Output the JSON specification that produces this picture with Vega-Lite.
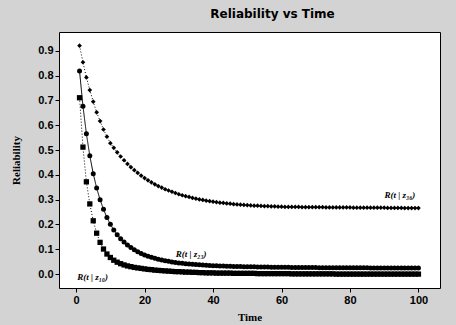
{
  "$schema": "https://vega.github.io/schema/vega-lite/v6.json",
  "width": 381,
  "height": 256,
  "autosize": "none",
  "padding": {"left": 59, "top": 32, "right": 16, "bottom": 37},
  "background": "#d3d3d3",
  "title": {"text": "Reliability vs Time", "fontSize": 12, "font": "DejaVu Sans", "fontWeight": "bold", "color": "black", "dx": 23, "offset": 11},
  "config": {
    "view": {"stroke": "black", "strokeWidth": 1, "fill": "white"},
    "axis": {"domain": false, "grid": false, "ticks": true, "tickSize": 4, "tickColor": "black", "labelOverlap": false, "labelFont": "Liberation Sans", "labelFontWeight": "bold", "labelFontSize": 11, "labelColor": "black", "labelPadding": 2, "titleFont": "Liberation Serif", "titleFontWeight": "bold", "titleFontSize": 11, "titleColor": "black"}
  },
  "datasets": {
    "curves": [
      {"t":1,"a":0.921,"b":0.819,"c":0.711},{"t":2,"a":0.854,"b":0.677,"c":0.512},{"t":3,"a":0.793,"b":0.566,"c":0.372},{"t":4,"a":0.742,"b":0.477,"c":0.283},{"t":5,"a":0.695,"b":0.405,"c":0.215},
      {"t":6,"a":0.652,"b":0.347,"c":0.165},{"t":7,"a":0.617,"b":0.300,"c":0.128},{"t":8,"a":0.583,"b":0.261,"c":0.101},{"t":9,"a":0.554,"b":0.228,"c":0.081},{"t":10,"a":0.528,"b":0.201,"c":0.067},
      {"t":11,"a":0.509,"b":0.178,"c":0.056},{"t":12,"a":0.491,"b":0.159,"c":0.048},{"t":13,"a":0.474,"b":0.143,"c":0.042},{"t":14,"a":0.459,"b":0.129,"c":0.037},{"t":15,"a":0.444,"b":0.117,"c":0.033},
      {"t":16,"a":0.431,"b":0.107,"c":0.030},{"t":17,"a":0.419,"b":0.098,"c":0.027},{"t":18,"a":0.408,"b":0.090,"c":0.025},{"t":19,"a":0.397,"b":0.083,"c":0.023},{"t":20,"a":0.387,"b":0.077,"c":0.021},
      {"t":21,"a":0.378,"b":0.072,"c":0.019},{"t":22,"a":0.370,"b":0.068,"c":0.018},{"t":23,"a":0.362,"b":0.064,"c":0.016},{"t":24,"a":0.355,"b":0.060,"c":0.015},{"t":25,"a":0.349,"b":0.057,"c":0.014},
      {"t":26,"a":0.342,"b":0.054,"c":0.013},{"t":27,"a":0.337,"b":0.052,"c":0.012},{"t":28,"a":0.332,"b":0.049,"c":0.011},{"t":29,"a":0.327,"b":0.047,"c":0.010},{"t":30,"a":0.322,"b":0.045,"c":0.010},
      {"t":31,"a":0.318,"b":0.044,"c":0.009},{"t":32,"a":0.314,"b":0.042,"c":0.008},{"t":33,"a":0.311,"b":0.041,"c":0.008},{"t":34,"a":0.307,"b":0.040,"c":0.007},{"t":35,"a":0.304,"b":0.039,"c":0.007},
      {"t":36,"a":0.301,"b":0.038,"c":0.006},{"t":37,"a":0.299,"b":0.037,"c":0.006},{"t":38,"a":0.296,"b":0.036,"c":0.005},{"t":39,"a":0.294,"b":0.035,"c":0.005},{"t":40,"a":0.292,"b":0.034,"c":0.005},
      {"t":41,"a":0.290,"b":0.034,"c":0.004},{"t":42,"a":0.288,"b":0.033,"c":0.004},{"t":43,"a":0.287,"b":0.033,"c":0.004},{"t":44,"a":0.285,"b":0.032,"c":0.004},{"t":45,"a":0.284,"b":0.032,"c":0.004},
      {"t":46,"a":0.282,"b":0.031,"c":0.003},{"t":47,"a":0.281,"b":0.031,"c":0.003},{"t":48,"a":0.280,"b":0.031,"c":0.003},{"t":49,"a":0.279,"b":0.030,"c":0.003},{"t":50,"a":0.278,"b":0.030,"c":0.003},
      {"t":51,"a":0.277,"b":0.030,"c":0.003},{"t":52,"a":0.276,"b":0.030,"c":0.003},{"t":53,"a":0.276,"b":0.029,"c":0.002},{"t":54,"a":0.275,"b":0.029,"c":0.002},{"t":55,"a":0.274,"b":0.029,"c":0.002},
      {"t":56,"a":0.274,"b":0.029,"c":0.002},{"t":57,"a":0.273,"b":0.028,"c":0.002},{"t":58,"a":0.273,"b":0.028,"c":0.002},{"t":59,"a":0.272,"b":0.028,"c":0.002},{"t":60,"a":0.272,"b":0.028,"c":0.002},
      {"t":61,"a":0.271,"b":0.028,"c":0.002},{"t":62,"a":0.271,"b":0.028,"c":0.002},{"t":63,"a":0.271,"b":0.027,"c":0.001},{"t":64,"a":0.271,"b":0.027,"c":0.001},{"t":65,"a":0.271,"b":0.027,"c":0.001},
      {"t":66,"a":0.270,"b":0.027,"c":0.001},{"t":67,"a":0.270,"b":0.027,"c":0.001},{"t":68,"a":0.270,"b":0.027,"c":0.001},{"t":69,"a":0.270,"b":0.027,"c":0.001},{"t":70,"a":0.270,"b":0.027,"c":0.001},
      {"t":71,"a":0.270,"b":0.026,"c":0.001},{"t":72,"a":0.270,"b":0.026,"c":0.001},{"t":73,"a":0.269,"b":0.026,"c":0.001},{"t":74,"a":0.269,"b":0.026,"c":0.001},{"t":75,"a":0.269,"b":0.026,"c":0.001},
      {"t":76,"a":0.269,"b":0.026,"c":0.000},{"t":77,"a":0.269,"b":0.026,"c":0.000},{"t":78,"a":0.269,"b":0.026,"c":0.000},{"t":79,"a":0.269,"b":0.026,"c":0.000},{"t":80,"a":0.269,"b":0.026,"c":0.000},
      {"t":81,"a":0.268,"b":0.026,"c":0.000},{"t":82,"a":0.268,"b":0.026,"c":0.000},{"t":83,"a":0.268,"b":0.026,"c":0.000},{"t":84,"a":0.268,"b":0.026,"c":0.000},{"t":85,"a":0.268,"b":0.026,"c":0.000},
      {"t":86,"a":0.268,"b":0.025,"c":0.000},{"t":87,"a":0.268,"b":0.025,"c":0.000},{"t":88,"a":0.268,"b":0.025,"c":0.000},{"t":89,"a":0.268,"b":0.025,"c":0.000},{"t":90,"a":0.268,"b":0.025,"c":0.000},
      {"t":91,"a":0.267,"b":0.025,"c":0.000},{"t":92,"a":0.267,"b":0.025,"c":0.000},{"t":93,"a":0.267,"b":0.025,"c":0.000},{"t":94,"a":0.267,"b":0.025,"c":0.000},{"t":95,"a":0.267,"b":0.025,"c":0.000},
      {"t":96,"a":0.266,"b":0.025,"c":0.000},{"t":97,"a":0.266,"b":0.025,"c":0.000},{"t":98,"a":0.266,"b":0.025,"c":0.000},{"t":99,"a":0.266,"b":0.025,"c":0.000},{"t":100,"a":0.266,"b":0.025,"c":0.000}
    ],
    "labels": [
      {"t": 94.6, "r": 0.32, "label": "R(t | z₃₆)"},
      {"t": 33.6, "r": 0.081, "label": "R(t | z₂₃)"},
      {"t": 4.8, "r": -0.012, "label": "R(t | z₁₀)"}
    ]
  },
  "encoding": {
    "x": {"field": "t", "type": "quantitative", "scale": {"domain": [-5, 106.3], "nice": false, "zero": false}, "axis": {"values": [0, 20, 40, 60, 80, 100], "title": "Time", "titlePadding": 6}},
    "y": {"field": "r", "type": "quantitative", "scale": {"domain": [-0.056, 0.976], "nice": false, "zero": false}, "axis": {"values": [0, 0.1, 0.2, 0.3, 0.4, 0.5, 0.6, 0.7, 0.8, 0.9], "format": ".1f", "title": "Reliability", "titlePadding": 16}}
  },
  "layer": [
    {
      "data": {"name": "curves"},
      "transform": [{"fold": ["a", "b", "c"], "as": ["s", "r"]}],
      "mark": {"type": "line", "color": "black", "strokeWidth": 1},
      "encoding": {
        "detail": {"field": "s"},
        "strokeDash": {"field": "s", "type": "nominal", "scale": {"domain": ["a", "b", "c"], "range": [[1, 2], [1, 0], [1, 2]]}, "legend": null}
      }
    },
    {
      "data": {"name": "curves"},
      "transform": [{"fold": ["a", "b", "c"], "as": ["s", "r"]}],
      "mark": {"type": "point", "filled": true, "color": "black", "opacity": 1},
      "encoding": {
        "shape": {"field": "s", "type": "nominal", "scale": {"domain": ["a", "b", "c"], "range": ["diamond", "circle", "square"]}, "legend": null},
        "size": {"field": "s", "type": "nominal", "scale": {"domain": ["a", "b", "c"], "range": [22, 28, 9]}, "legend": null}
      }
    },
    {
      "data": {"name": "labels"},
      "mark": {"type": "text", "font": "Liberation Serif", "fontStyle": "italic", "fontWeight": "bold", "fontSize": 9, "color": "black"},
      "encoding": {
        "text": {"field": "label"}
      }
    }
  ]
}
